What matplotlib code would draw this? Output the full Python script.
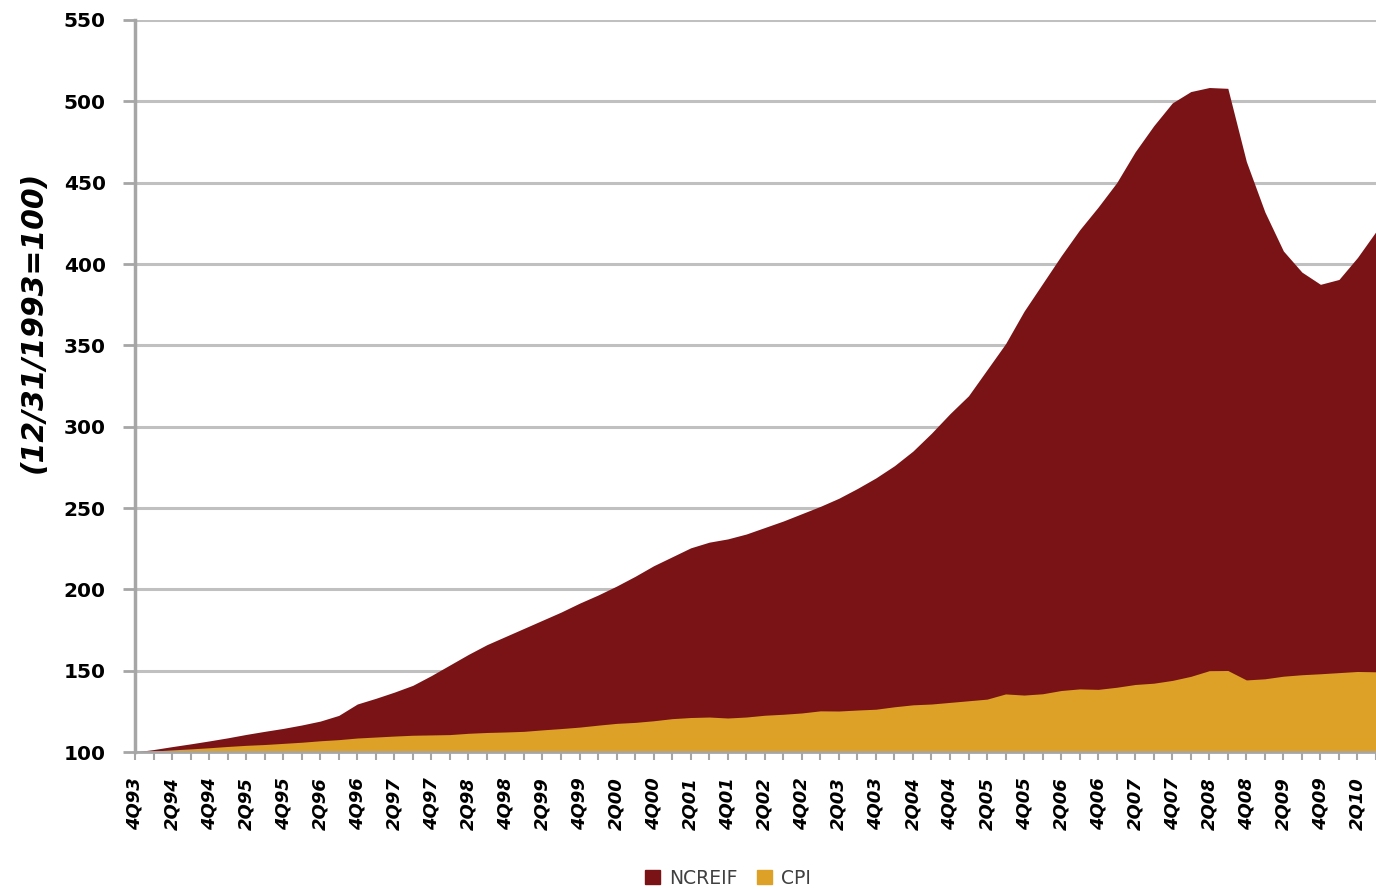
import matplotlib
matplotlib.use("Agg")
import matplotlib.pyplot as plt
from matplotlib.patches import Patch

quarters = ['4Q93',
            '1Q94', '2Q94', '3Q94', '4Q94', '1Q95', '2Q95', '3Q95', '4Q95',
            '1Q96', '2Q96', '3Q96', '4Q96', '1Q97', '2Q97', '3Q97', '4Q97',
            '1Q98', '2Q98', '3Q98', '4Q98', '1Q99', '2Q99', '3Q99', '4Q99',
            '1Q00', '2Q00', '3Q00', '4Q00', '1Q01', '2Q01', '3Q01', '4Q01',
            '1Q02', '2Q02', '3Q02', '4Q02', '1Q03', '2Q03', '3Q03', '4Q03',
            '1Q04', '2Q04', '3Q04', '4Q04', '1Q05', '2Q05', '3Q05', '4Q05',
            '1Q06', '2Q06', '3Q06', '4Q06', '1Q07', '2Q07', '3Q07', '4Q07',
            '1Q08', '2Q08', '3Q08', '4Q08', '1Q09', '2Q09', '3Q09', '4Q09',
            '1Q10', '2Q10', '3Q10']

ncreif = [100.0,
          101.5, 103.3, 105.0, 106.8, 108.7, 110.8, 112.7, 114.5,
          116.6, 119.0, 122.5, 129.5, 133.0, 136.8, 141.0, 147.0,
          153.5, 160.0, 166.0, 171.0, 176.0, 181.0, 186.0, 191.5,
          196.5, 202.0, 208.0, 214.5, 220.0, 225.5, 229.0, 231.0,
          234.0, 238.0, 242.0, 246.5, 251.0, 256.0, 262.0, 268.5,
          276.0, 285.0, 296.0, 308.0, 319.0, 335.0, 351.0, 371.0,
          388.0, 405.0, 421.0, 435.0, 450.0, 469.0, 485.0, 499.0,
          506.0, 508.5, 508.0, 463.0, 432.0, 408.0, 395.0, 387.5,
          390.5, 404.0, 420.0]

cpi = [100.0,
       100.6, 101.3, 101.9, 102.6, 103.4, 104.1, 104.6, 105.3,
       106.0, 106.9, 107.6, 108.6, 109.2, 109.8, 110.3, 110.5,
       110.7, 111.5, 112.0, 112.3, 112.7, 113.6, 114.4, 115.3,
       116.5, 117.6, 118.2, 119.2, 120.5, 121.2, 121.5, 120.9,
       121.5, 122.6, 123.2, 124.0, 125.3, 125.2, 125.8, 126.3,
       127.8, 129.0, 129.5, 130.5, 131.5, 132.5, 135.7, 135.0,
       135.8, 137.8, 138.8, 138.5, 139.8, 141.5, 142.3, 144.0,
       146.5, 150.0, 150.1, 144.3, 145.0, 146.6, 147.5, 148.1,
       148.8, 149.5, 149.3]

series_names = ['NCREIF', 'CPI']
colors = ['#7A1316', '#DDA127']
y_ticks = [100, 150, 200, 250, 300, 350, 400, 450, 500, 550]
y_label = '(12/31/1993=100)'

W, H = 1376, 890
fig = plt.figure(figsize=(W / 100, H / 100), dpi=100)
ax = fig.add_axes([135 / W, 138 / H, 1 - 135 / W, 732 / H])

x = list(range(len(quarters)))
ax.fill_between(x, 0, ncreif, color=colors[0], lw=0, zorder=2)
ax.fill_between(x, 0, cpi, color=colors[1], lw=0, zorder=3)

ax.set_ylim(100, 550)
ax.set_xlim(0, (W - 135) / 18.73)
ax.set_yticks(y_ticks)
ax.set_yticklabels([str(v) for v in y_ticks], fontsize=14.5, fontweight='bold')
ax.set_xticks(x)
ax.set_xticklabels([q if i % 2 == 0 else '' for i, q in enumerate(quarters)],
                   rotation=90, fontsize=13, fontweight='bold', style='italic')

ax.set_axisbelow(True)
ax.yaxis.grid(True, color='#C0C0C0', lw=2.2)
for s in ['top', 'right']:
    ax.spines[s].set_visible(False)
ax.spines['left'].set_color('#A6A6A6')
ax.spines['left'].set_linewidth(2.5)
ax.spines['bottom'].set_color('#A6A6A6')
ax.spines['bottom'].set_linewidth(2)
ax.spines['bottom'].set_zorder(4)
ax.tick_params(axis='y', length=9, width=2, color='#A6A6A6', pad=12)
ax.tick_params(axis='x', length=6, width=1.5, color='#A6A6A6', pad=12)

fig.text(33 / W, 1 - 322 / H, y_label, rotation=90, fontsize=21.5,
         fontweight='bold', style='italic', ha='center', va='center')

handles = [Patch(color=c) for c in colors]
fig.legend(handles, series_names, loc='center', bbox_to_anchor=(728 / W, 1 - 878 / H),
           ncol=2, frameon=False, fontsize=13.5, handlelength=0.8, handleheight=0.8,
           handletextpad=0.5, columnspacing=1.0, labelcolor='#404040')

fig.savefig('out.png', dpi=100)
